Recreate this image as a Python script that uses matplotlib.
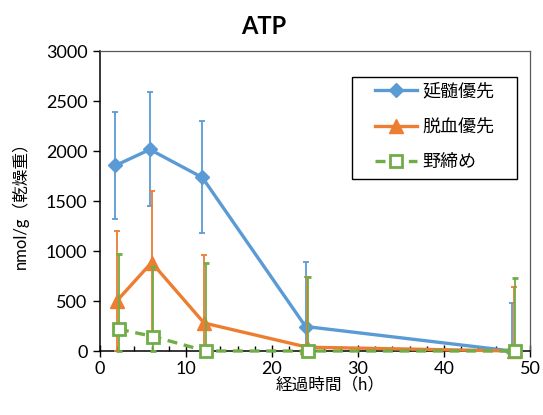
import matplotlib
matplotlib.use("Agg")
import matplotlib.pyplot as plt
from matplotlib.patches import Rectangle
from matplotlib.ticker import MultipleLocator

plt.rcParams["font.family"] = ["Lato", "Noto Sans CJK JP", "DejaVu Sans"]

SERIES_NAMES = ["延髄優先", "脱血優先", "野締め"]

# sampling times (h), slightly offset per series as in the original chart
TIME_ENBUI = [1.8, 5.8, 11.9, 23.9, 47.9]
TIME_DAKKETSU = [2.0, 6.0, 12.1, 24.1, 48.1]
TIME_NOJIME = [2.2, 6.2, 12.3, 24.2, 48.2]

ATP_ENBUI = [1855, 2015, 1735, 245, 0]
ATP_DAKKETSU = [505, 885, 280, 38, 0]
ATP_NOJIME = [218, 145, 0, 0, 0]

ERR_ENBUI = [535, 570, 560, 650, 480]
ERR_DAKKETSU = [695, 710, 685, 700, 645]
ERR_NOJIME = [750, 700, 885, 745, 730]

BLUE = "#5B9BD5"
ORANGE = "#ED7D31"
GREEN = "#70AD47"


def bars(values, errs):
    # lower whiskers stop at the axis, like the original chart
    lower = [min(v, e) for v, e in zip(values, errs)]
    return [lower, errs]


fig = plt.figure(figsize=(5.43, 4.15), dpi=100)
ax = fig.add_axes([100 / 543, 64 / 415, 430 / 543, 300 / 415])

common = dict(elinewidth=1.3, capsize=2.5, capthick=1.3, linewidth=2.4)

series = [
    (TIME_ENBUI, ATP_ENBUI, ERR_ENBUI, BLUE,
     dict(marker="D", markersize=7)),
    (TIME_DAKKETSU, ATP_DAKKETSU, ERR_DAKKETSU, ORANGE,
     dict(marker="^", markersize=10)),
    (TIME_NOJIME, ATP_NOJIME, ERR_NOJIME, GREEN,
     dict(marker="s", markersize=9, markerfacecolor="white", markeredgewidth=2,
          linestyle=(0, (3, 2)))),
]
for i, (t, v, e, color, style) in enumerate(series):
    cont = ax.errorbar(t, v, yerr=bars(v, e), color=color, ecolor=color,
                       label=SERIES_NAMES[i], zorder=3 + i, **common, **style)
    cont[0].set_clip_on(False)
    for art in cont[1] + cont[2]:
        art.set_clip_on(False)

ax.set_xlim(0, 50)
ax.set_ylim(0, 3000)
ax.xaxis.set_major_locator(MultipleLocator(10))
ax.xaxis.set_minor_locator(MultipleLocator(2))
ax.yaxis.set_major_locator(MultipleLocator(500))

ax.tick_params(axis="x", which="major", direction="inout", length=9, width=1,
               labelsize=13, pad=3)
ax.tick_params(axis="x", which="minor", direction="in", length=3.5, width=1)
ax.tick_params(axis="y", which="major", direction="out", length=5, width=1,
               labelsize=13, pad=4)

for side in ("left", "bottom"):
    ax.spines[side].set_color("black")
    ax.spines[side].set_linewidth(1.1)
for side in ("top", "right"):
    ax.spines[side].set_color("0.35")
    ax.spines[side].set_linewidth(0.9)

ax.set_xlabel("経過時間（h）", fontsize=12, va="center")
ax.xaxis.set_label_coords(0.535, -0.11)
ax.set_ylabel("nmol/g（乾燥重）", fontsize=12, va="center")
ax.yaxis.set_label_coords(-0.186, 0.5)
fig.text(264 / 543, 1 - 27 / 415, "ATP", fontsize=17, fontweight="bold",
         ha="center", va="center")

# legend box drawn separately so its padding matches the original
ax.add_patch(Rectangle((0.586, 0.573), 0.384, 0.34, transform=ax.transAxes,
                       facecolor="white", edgecolor="black", linewidth=1.0,
                       zorder=9, clip_on=False))
handles, labels = ax.get_legend_handles_labels()
handles = [h[0] for h in handles]
leg = ax.legend(handles, labels, loc="upper left", bbox_to_anchor=(0.64, 0.893),
                fontsize=13, frameon=False, borderpad=0, borderaxespad=0,
                handlelength=2.3, labelspacing=1.05, handletextpad=0.3)
leg.set_zorder(10)

fig.savefig("out.png", dpi=100)
